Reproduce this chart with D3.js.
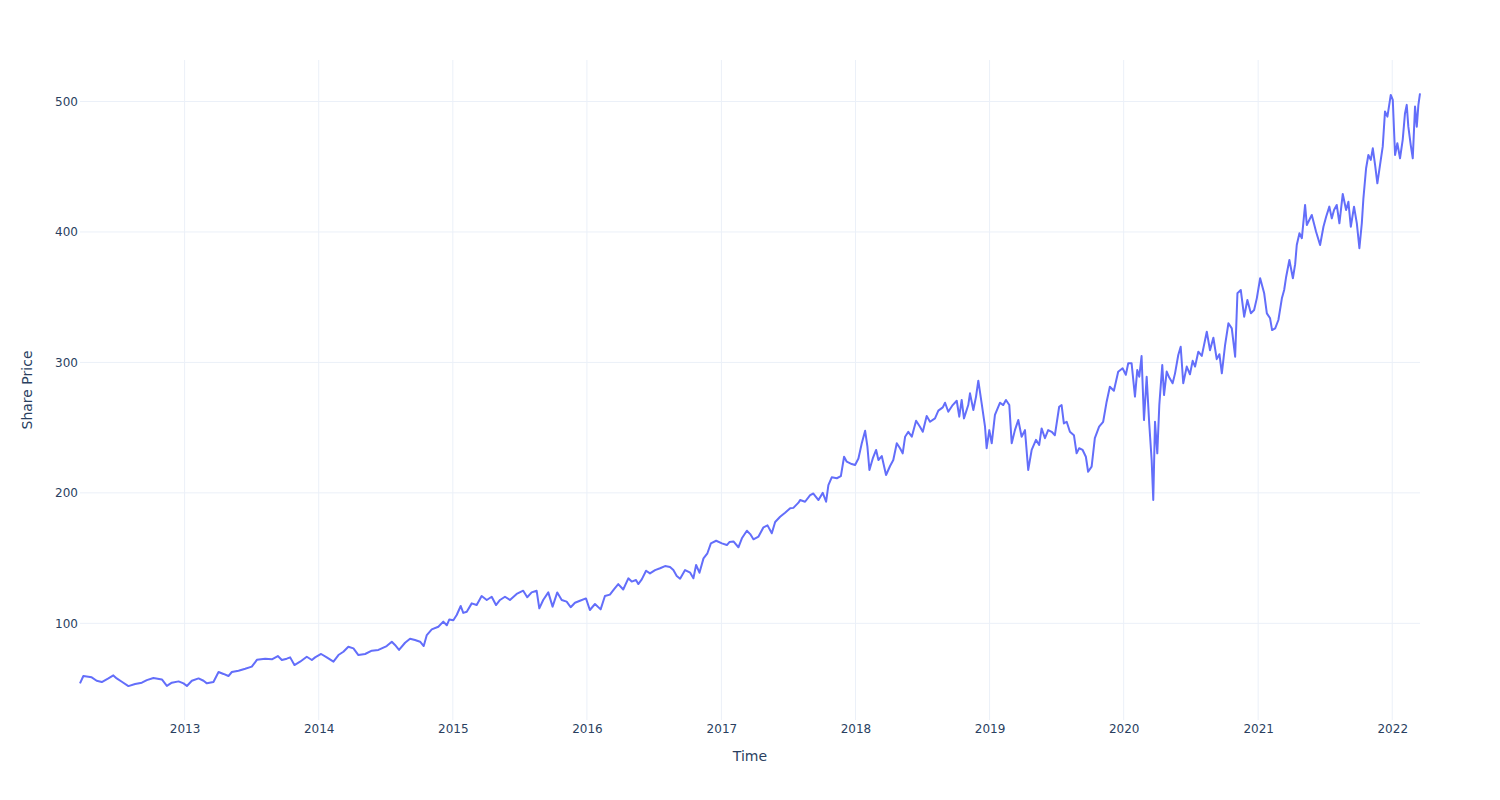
<!DOCTYPE html>
<html>
<head>
<meta charset="utf-8">
<script src="https://cdn.jsdelivr.net/npm/d3@7"></script>
<style>
  html, body { margin: 0; padding: 0; background: #fff; }
  svg { display: block; }
  text { font-family: "DejaVu Sans", verdana, arial, sans-serif; }
</style>
</head>
<body>
<svg id="chart" width="1500" height="800"></svg>
<script>
// ---- DATA ----
// sample times as decimal years
const sampleTimes = [
  2012.222, 2012.247, 2012.309, 2012.346, 2012.384, 2012.433, 2012.470, 2012.495, 2012.533, 2012.582, 2012.632, 2012.682, 2012.719, 2012.768, 2012.831, 2012.868, 2012.905, 2012.955, 2012.992,
  2013.017, 2013.054, 2013.104, 2013.141, 2013.166, 2013.215, 2013.253, 2013.290, 2013.327, 2013.352, 2013.402, 2013.452, 2013.501, 2013.539, 2013.601, 2013.651, 2013.695, 2013.725, 2013.762, 2013.787, 2013.819, 2013.861, 2013.911, 2013.949, 2013.973,
  2014.018, 2014.060, 2014.110, 2014.147, 2014.184, 2014.221, 2014.259, 2014.296, 2014.346, 2014.396, 2014.445, 2014.470, 2014.507, 2014.545, 2014.569, 2014.599, 2014.644, 2014.681, 2014.718, 2014.756, 2014.783, 2014.806, 2014.843, 2014.892, 2014.929, 2014.955, 2014.974,
  2015.004, 2015.029, 2015.059, 2015.078, 2015.104, 2015.141, 2015.178, 2015.215, 2015.253, 2015.290, 2015.322, 2015.352, 2015.389, 2015.426, 2015.476, 2015.525, 2015.555, 2015.588, 2015.625, 2015.645, 2015.674, 2015.712, 2015.744, 2015.779, 2015.812, 2015.849, 2015.879, 2015.911, 2015.948, 2015.993,
  2016.022, 2016.060, 2016.102, 2016.134, 2016.171, 2016.201, 2016.233, 2016.270, 2016.308, 2016.333, 2016.365, 2016.382, 2016.408, 2016.440, 2016.469, 2016.507, 2016.544, 2016.581, 2016.618, 2016.643, 2016.668, 2016.693, 2016.730, 2016.768, 2016.792, 2016.812, 2016.837, 2016.867, 2016.896, 2016.922, 2016.961,
  2017.004, 2017.041, 2017.060, 2017.090, 2017.127, 2017.153, 2017.190, 2017.215, 2017.239, 2017.277, 2017.314, 2017.344, 2017.376, 2017.401, 2017.438, 2017.475, 2017.513, 2017.537, 2017.575, 2017.587, 2017.624, 2017.662, 2017.686, 2017.724, 2017.756, 2017.781, 2017.798, 2017.823, 2017.861, 2017.891, 2017.915, 2017.935, 2017.972, 2017.997,
  2018.022, 2018.047, 2018.072, 2018.089, 2018.104, 2018.129, 2018.154, 2018.171, 2018.196, 2018.228, 2018.258, 2018.282, 2018.308, 2018.332, 2018.352, 2018.370, 2018.394, 2018.420, 2018.452, 2018.481, 2018.502, 2018.531, 2018.556, 2018.593, 2018.618, 2018.651, 2018.668, 2018.692, 2018.725, 2018.755, 2018.774, 2018.792, 2018.809, 2018.841, 2018.854, 2018.879, 2018.899, 2018.916, 2018.941, 2018.966, 2018.978, 2018.998,
  2019.016, 2019.040, 2019.078, 2019.102, 2019.122, 2019.147, 2019.165, 2019.189, 2019.214, 2019.239, 2019.264, 2019.288, 2019.314, 2019.346, 2019.370, 2019.388, 2019.413, 2019.437, 2019.463, 2019.487, 2019.519, 2019.537, 2019.554, 2019.575, 2019.599, 2019.629, 2019.649, 2019.668, 2019.694, 2019.718, 2019.735, 2019.761, 2019.785, 2019.817, 2019.847, 2019.873, 2019.897, 2019.927, 2019.959, 2019.992,
  2020.016, 2020.034, 2020.059, 2020.084, 2020.101, 2020.116, 2020.133, 2020.151, 2020.171, 2020.190, 2020.208, 2020.220, 2020.233, 2020.250, 2020.265, 2020.287, 2020.300, 2020.320, 2020.339, 2020.364, 2020.382, 2020.406, 2020.424, 2020.443, 2020.469, 2020.493, 2020.513, 2020.531, 2020.555, 2020.581, 2020.618, 2020.642, 2020.667, 2020.692, 2020.712, 2020.730, 2020.754, 2020.779, 2020.804, 2020.829, 2020.846, 2020.871, 2020.896, 2020.920, 2020.946, 2020.970, 2020.990,
  2021.015, 2021.045, 2021.065, 2021.089, 2021.104, 2021.127, 2021.151, 2021.177, 2021.194, 2021.209, 2021.233, 2021.259, 2021.276, 2021.288, 2021.308, 2021.326, 2021.350, 2021.363, 2021.400, 2021.432, 2021.462, 2021.487, 2021.507, 2021.531, 2021.549, 2021.566, 2021.586, 2021.606, 2021.631, 2021.656, 2021.673, 2021.691, 2021.715, 2021.736, 2021.755, 2021.773, 2021.785, 2021.805, 2021.822, 2021.840, 2021.855, 2021.872, 2021.889, 2021.909, 2021.929, 2021.946, 2021.964, 2021.989,
  2022.004, 2022.021, 2022.038, 2022.058, 2022.078, 2022.095, 2022.108, 2022.120, 2022.138, 2022.153, 2022.170, 2022.183, 2022.195, 2022.207
];
const sharePrice = [
  54, 59.6, 58.6, 56, 55, 57.8, 60.1, 57.8, 55.2, 51.9, 53.5, 54.5, 56.5, 58.1, 57, 52, 54.5, 55.5, 54,
  52, 56, 57.8, 56, 54, 55, 62.7, 61.2, 59.6, 62.7, 63.7, 65.2, 66.8, 72, 72.9, 72.4, 74.9, 71.9, 72.9, 73.9, 68, 70.6, 74.4, 71.9, 73.9,
  76.5, 73.9, 70.6, 75.7, 78.2, 82.1, 80.8, 75.7, 76.5, 79, 79.6, 80.8, 82.6, 85.9, 83.4, 79.6, 85.1, 88.2, 87.2, 85.9, 82.6, 91, 95.4, 97.4, 101.3, 98.5, 103,
  102.3, 106.4, 113.3, 108, 108.9, 115.3, 114, 120.9, 117.9, 120.4, 114, 117.9, 120.4, 117.9, 122.5, 125, 120, 123.7, 125, 111.5, 117.9, 123.7, 112.8, 123.7, 117.9, 116.6, 112.3, 115.8, 117.3, 119.1,
  110.2, 114.8, 110.7, 120.9, 122, 126.1, 130.1, 125.9, 134.5, 132, 133.2, 130.1, 133.7, 140.3, 138.3, 140.8, 142.2, 143.9, 143.1, 140.8, 136.3, 134.2, 140.8, 138.8, 134.5, 144.7, 138.8, 149.8, 153.7, 161.3, 163.3,
  161.3, 160, 162.3, 162.8, 158.3, 165.2, 171, 168.4, 164.4, 166.5, 173.6, 175.1, 169, 177.7, 181.7, 184.8, 188.2, 188.5, 192.5, 194.5, 193.2, 198.3, 199.5, 194.5, 200, 193.2, 206, 211.9, 211.2, 212.8, 227.7, 223.9, 222.1, 221.4,
  226.4, 238, 247.6, 235.5, 217.5, 226.4, 232.9, 225.2, 228.2, 213.7, 220.6, 225.2, 238, 234.2, 230.3, 243, 246.8, 243, 255.3, 250.7, 246.8, 258.9, 254.5, 257.1, 263, 265.5, 269.1, 262.2, 267.3, 270.6, 258.4, 271.2, 257.1, 267.3, 276.3, 263.5, 273.8, 286, 268.6, 250.7, 234.2, 248.1,
  238, 259.7, 269.1, 267.3, 271.2, 267.3, 238, 248.1, 255.8, 243, 248.1, 217.5, 232.9, 240.6, 236.8, 249.4, 241.9, 248.1, 246.8, 244.2, 266, 267.3, 253.2, 254.5, 246.8, 244.2, 230.3, 234.2, 232.9, 227.7, 216.2, 220.1, 241.9, 250.7, 254.5, 269.9, 281.4, 278.3, 292.9, 295.5,
  290.5, 299.3, 299.3, 273.8, 294.2, 289, 304.9, 255.8, 289, 253.2, 225.2, 194.5, 254.5, 230.3, 267.3, 298, 275, 293, 288.4, 284, 291.6, 305.7, 312, 284, 296.8, 290.9, 301.2, 296.8, 308.2, 305, 323.5, 309.4, 318.9, 302.5, 306.3, 291.6, 313.3, 330, 326.1, 304.4, 353, 355.5, 335, 347.8, 337.6, 340.2, 349.1,
  364.5, 353, 337.6, 333.8, 324.8, 326.1, 332.5, 349.1, 355.5, 365.7, 378.5, 364.5, 375.3, 390, 399, 395.2, 420.7, 405.3, 413, 400.2, 390, 404, 411.7, 419.4, 410.4, 416.8, 420.7, 406.6, 429.1, 416.8, 423.2, 404, 419.4, 406.6, 387.5, 406.6, 425.8, 448.8, 459, 455.2, 464.1, 451.4, 437.3, 451.4, 465.4, 492.3, 488.4, 505,
  501.2, 459, 468, 456.5, 470.6, 490.9, 497.4, 480.7, 466.6, 456.5, 496.1, 480.7, 497.4, 506.3
];
const yTickValues = [100, 200, 300, 400, 500];
const xTickYears = [2013, 2014, 2015, 2016, 2017, 2018, 2019, 2020, 2021, 2022];
const yRange = [25.9, 531.8];
const xTitle = "Time";
const yTitle = "Share Price";

// ---- CHART ----
if (sampleTimes.length !== sharePrice.length) console.error("length mismatch", sampleTimes.length, sharePrice.length);

function yearFracToDate(t) {
  const y = Math.floor(t);
  const s = Date.UTC(y, 0, 1), e = Date.UTC(y + 1, 0, 1);
  return new Date(s + (t - y) * (e - s));
}
const data = sampleTimes.map((t, i) => ({ date: yearFracToDate(t), value: sharePrice[i] }));

const W = 1500, H = 800;
const margin = { top: 60, right: 80, bottom: 80, left: 80 };
const FONT = '"DejaVu Sans", verdana, arial, sans-serif';
const svg = d3.select("#chart");
const x = d3.scaleUtc()
  .domain(d3.extent(data, d => d.date))
  .range([margin.left, W - margin.right]);
const y = d3.scaleLinear()
  .domain(yRange)
  .range([H - margin.bottom, margin.top]);

const fontColor = "#2a3f5f";
const gridColor = "#EBF0F8";
const xTickDates = xTickYears.map(yr => new Date(Date.UTC(yr, 0, 1)));

// gridlines
svg.append("g").selectAll("line").data(xTickDates).join("line")
  .attr("x1", d => x(d)).attr("x2", d => x(d))
  .attr("y1", margin.top).attr("y2", H - margin.bottom)
  .attr("stroke", gridColor).attr("stroke-width", 1);
svg.append("g").selectAll("line").data(yTickValues).join("line")
  .attr("x1", margin.left).attr("x2", W - margin.right)
  .attr("y1", d => y(d)).attr("y2", d => y(d))
  .attr("stroke", gridColor).attr("stroke-width", 1);

// axes
const xAxis = svg.append("g")
  .attr("transform", `translate(0,${H - margin.bottom})`)
  .call(d3.axisBottom(x).tickValues(xTickDates).tickFormat(d3.utcFormat("%Y")).tickSize(0).tickPadding(4));
xAxis.select(".domain").remove();
xAxis.selectAll("text").attr("fill", fontColor).style("font-size", "12px").style("font-family", FONT);

const yAxis = svg.append("g")
  .attr("transform", `translate(${margin.left},0)`)
  .call(d3.axisLeft(y).tickValues(yTickValues).tickSize(0).tickPadding(2));
yAxis.select(".domain").remove();
yAxis.selectAll("text").attr("fill", fontColor).style("font-size", "12px").style("font-family", FONT);

// line
const line = d3.line().x(d => x(d.date)).y(d => y(d.value));
svg.append("path").datum(data)
  .attr("d", line)
  .attr("fill", "none")
  .attr("stroke", "#636efa")
  .attr("stroke-width", 2)
  .attr("stroke-linejoin", "round");

// titles
svg.append("text")
  .attr("x", (margin.left + W - margin.right) / 2)
  .attr("y", 761)
  .attr("text-anchor", "middle")
  .attr("fill", fontColor)
  .style("font-size", "14px")
  .style("font-family", FONT)
  .text(xTitle);
svg.append("text")
  .attr("transform", `translate(32,${(margin.top + H - margin.bottom) / 2}) rotate(-90)`)
  .attr("text-anchor", "middle")
  .attr("fill", fontColor)
  .style("font-size", "14px")
  .style("font-family", FONT)
  .text(yTitle);
</script>
</body>
</html>
